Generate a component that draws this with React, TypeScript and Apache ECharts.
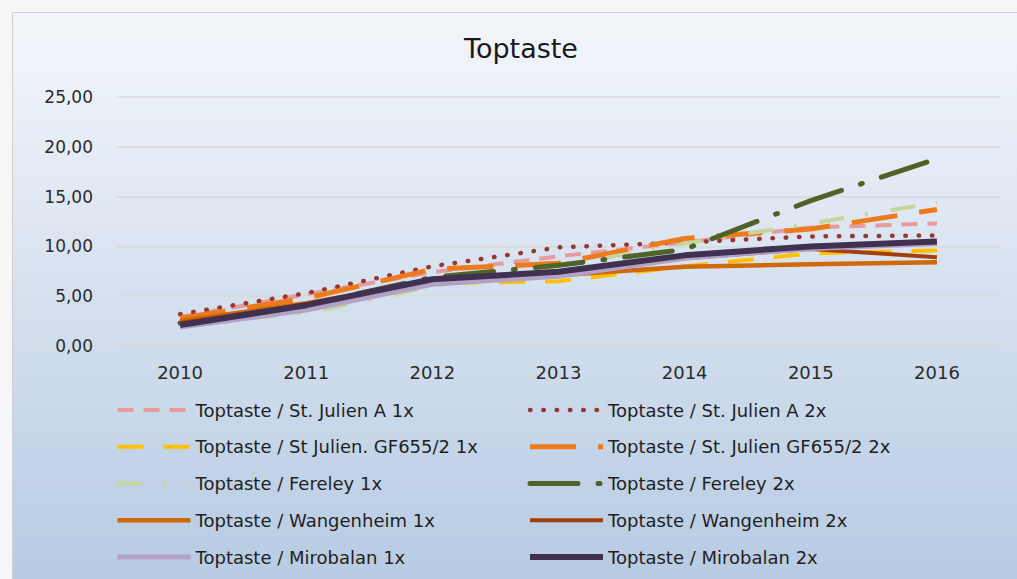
import React, { useEffect, useRef } from "react";
import * as echarts from "echarts";

const categories = ["2010", "2011", "2012", "2013", "2014", "2015", "2016"];

const stJulienA1x = [2.9, 5.2, 7.4, 9.0, 10.4, 11.9, 12.3];
const stJulienA2x = [3.2, 5.3, 8.0, 9.9, 10.4, 11.0, 11.1];
const gf655_1x = [2.4, 4.0, 6.3, 6.5, 8.0, 9.3, 9.6];
const gf655_2x = [2.8, 4.8, 7.7, 8.3, 10.8, 11.75, 13.7];
const fereley1x = [2.2, 3.3, 6.0, 8.0, 10.3, 12.3, 14.4];
const fereley2x = [2.3, 4.1, 6.9, 8.1, 9.7, 14.6, 18.8];
const wangenheim1x = [2.5, 4.3, 6.5, 7.1, 7.95, 8.2, 8.4];
const wangenheim2x = [2.3, 4.2, 6.6, 7.3, 8.8, 9.75, 8.9];
const mirobalan1x = [1.9, 3.6, 6.2, 7.0, 8.8, 9.8, 10.3];
const mirobalan2x = [2.1, 4.1, 6.7, 7.45, 9.1, 10.0, 10.5];

const names = [
  "Toptaste / St. Julien A 1x",
  "Toptaste / St. Julien A 2x",
  "Toptaste / St Julien. GF655/2 1x",
  "Toptaste / St. Julien GF655/2 2x",
  "Toptaste / Fereley 1x",
  "Toptaste / Fereley 2x",
  "Toptaste / Wangenheim 1x",
  "Toptaste / Wangenheim 2x",
  "Toptaste / Mirobalan 1x",
  "Toptaste / Mirobalan 2x",
];

const yTicks = [0, 5, 10, 15, 20, 25];

const FONT = "DejaVu Sans";

export default function App() {
  const ref = useRef<HTMLDivElement>(null);

  useEffect(() => {
    if (!ref.current) return;
    const chart = echarts.init(ref.current, null, { renderer: "svg" });

    const values = [
      stJulienA1x,
      stJulienA2x,
      gf655_1x,
      gf655_2x,
      fereley1x,
      fereley2x,
      wangenheim1x,
      wangenheim2x,
      mirobalan1x,
      mirobalan2x,
    ];
    const styles: any[] = [
      { color: "#E59C9C", width: 4, type: [16, 10] },
      { color: "#953735", width: 4.5, type: [0.5, 12.8], cap: "round" },
      { color: "#FFC000", width: 4, type: [26, 20] },
      { color: "#EE7A1E", width: 5, type: [46, 22] },
      { color: "#C3D69B", width: 4, type: [25, 21, 3, 23] },
      { color: "#4F6228", width: 5, type: [48, 20, 2, 20], cap: "round" },
      { color: "#D0680C", width: 4.5, type: "solid" },
      { color: "#A33F0D", width: 4, type: "solid" },
      { color: "#B3A2C7", width: 5, type: "solid" },
      { color: "#403151", width: 6, type: "solid" },
    ];

    const series = names.map((n, i) => ({
      name: n,
      type: "line",
      data: values[i],
      symbol: "none",
      showSymbol: false,
      smooth: false,
      color: styles[i].color,
      lineStyle: styles[i],
      z: 2 + i,
    }));

    const legendCommon = {
      orient: "vertical",
      top: 400,
      padding: 0,
      itemWidth: 73,
      itemHeight: 12,
      itemGap: 16.75,
      itemStyle: {
        color: "rgba(0,0,0,0)",
        borderColor: "rgba(0,0,0,0)",
        borderWidth: 0,
      },
      lineStyle: { width: "inherit", type: "inherit", cap: "inherit" },
      textStyle: {
        fontFamily: FONT,
        fontSize: 18,
        lineHeight: 20,
        color: "#1f1f1f",
      },
    };

    chart.setOption({
      animation: false,
      backgroundColor: new echarts.graphic.LinearGradient(0, 0, 0, 1, [
        { offset: 0, color: "#F5F8FC" },
        { offset: 0.5, color: "#D6E1EF" },
        { offset: 1, color: "#B7CBE3" },
      ]),
      textStyle: { fontFamily: FONT },
      title: {
        text: "Toptaste",
        left: 459,
        top: 30,
        textStyle: {
          fontFamily: FONT,
          fontSize: 27,
          fontWeight: "normal",
          color: "#1a1a1a",
        },
      },
      grid: { left: 117, right: 17, top: 97, bottom: 233, containLabel: false },
      xAxis: {
        type: "category",
        data: categories,
        boundaryGap: true,
        axisLine: { show: true, lineStyle: { color: "#D9D9D9", width: 1.5 } },
        axisTick: { show: false },
        axisLabel: {
          margin: 17,
          fontFamily: FONT,
          fontSize: 18,
          color: "#2b2b2b",
        },
        splitLine: { show: false },
      },
      yAxis: {
        type: "value",
        min: yTicks[0],
        max: yTicks[yTicks.length - 1],
        interval: 5,
        axisLine: { show: false },
        axisTick: { show: false },
        axisLabel: {
          margin: 24,
          fontFamily: FONT,
          fontSize: 17,
          color: "#2b2b2b",
          formatter: (v: number) => v.toFixed(2).replace(".", ","),
        },
        splitLine: { lineStyle: { color: "#D9D9D9", width: 1.5 } },
      },
      legend: [
        {
          ...legendCommon,
          left: 115,
          data: [names[0], names[2], names[4], names[6], names[8]],
        },
        {
          ...legendCommon,
          left: 527,
          data: [names[1], names[3], names[5], names[7], names[9]],
        },
      ],
      graphic: [
        {
          type: "rect",
          shape: { x: 0, y: 0, width: 1017, height: 12 },
          style: { fill: "#F6F6F6" },
          silent: true,
        },
        {
          type: "rect",
          shape: { x: 0, y: 0, width: 12, height: 579 },
          style: { fill: "#F6F6F6" },
          silent: true,
        },
        {
          type: "polyline",
          shape: {
            points: [
              [12.5, 579],
              [12.5, 12.5],
              [1017, 12.5],
            ],
          },
          style: { stroke: "#D0D0D0", lineWidth: 1, fill: null },
          silent: true,
        },
      ],
      series,
    });

    return () => chart.dispose();
  }, []);

  return (
    <div
      ref={ref}
      style={{
        position: "absolute",
        left: 0,
        top: 0,
        width: 1017,
        height: 579,
      }}
    />
  );
}
